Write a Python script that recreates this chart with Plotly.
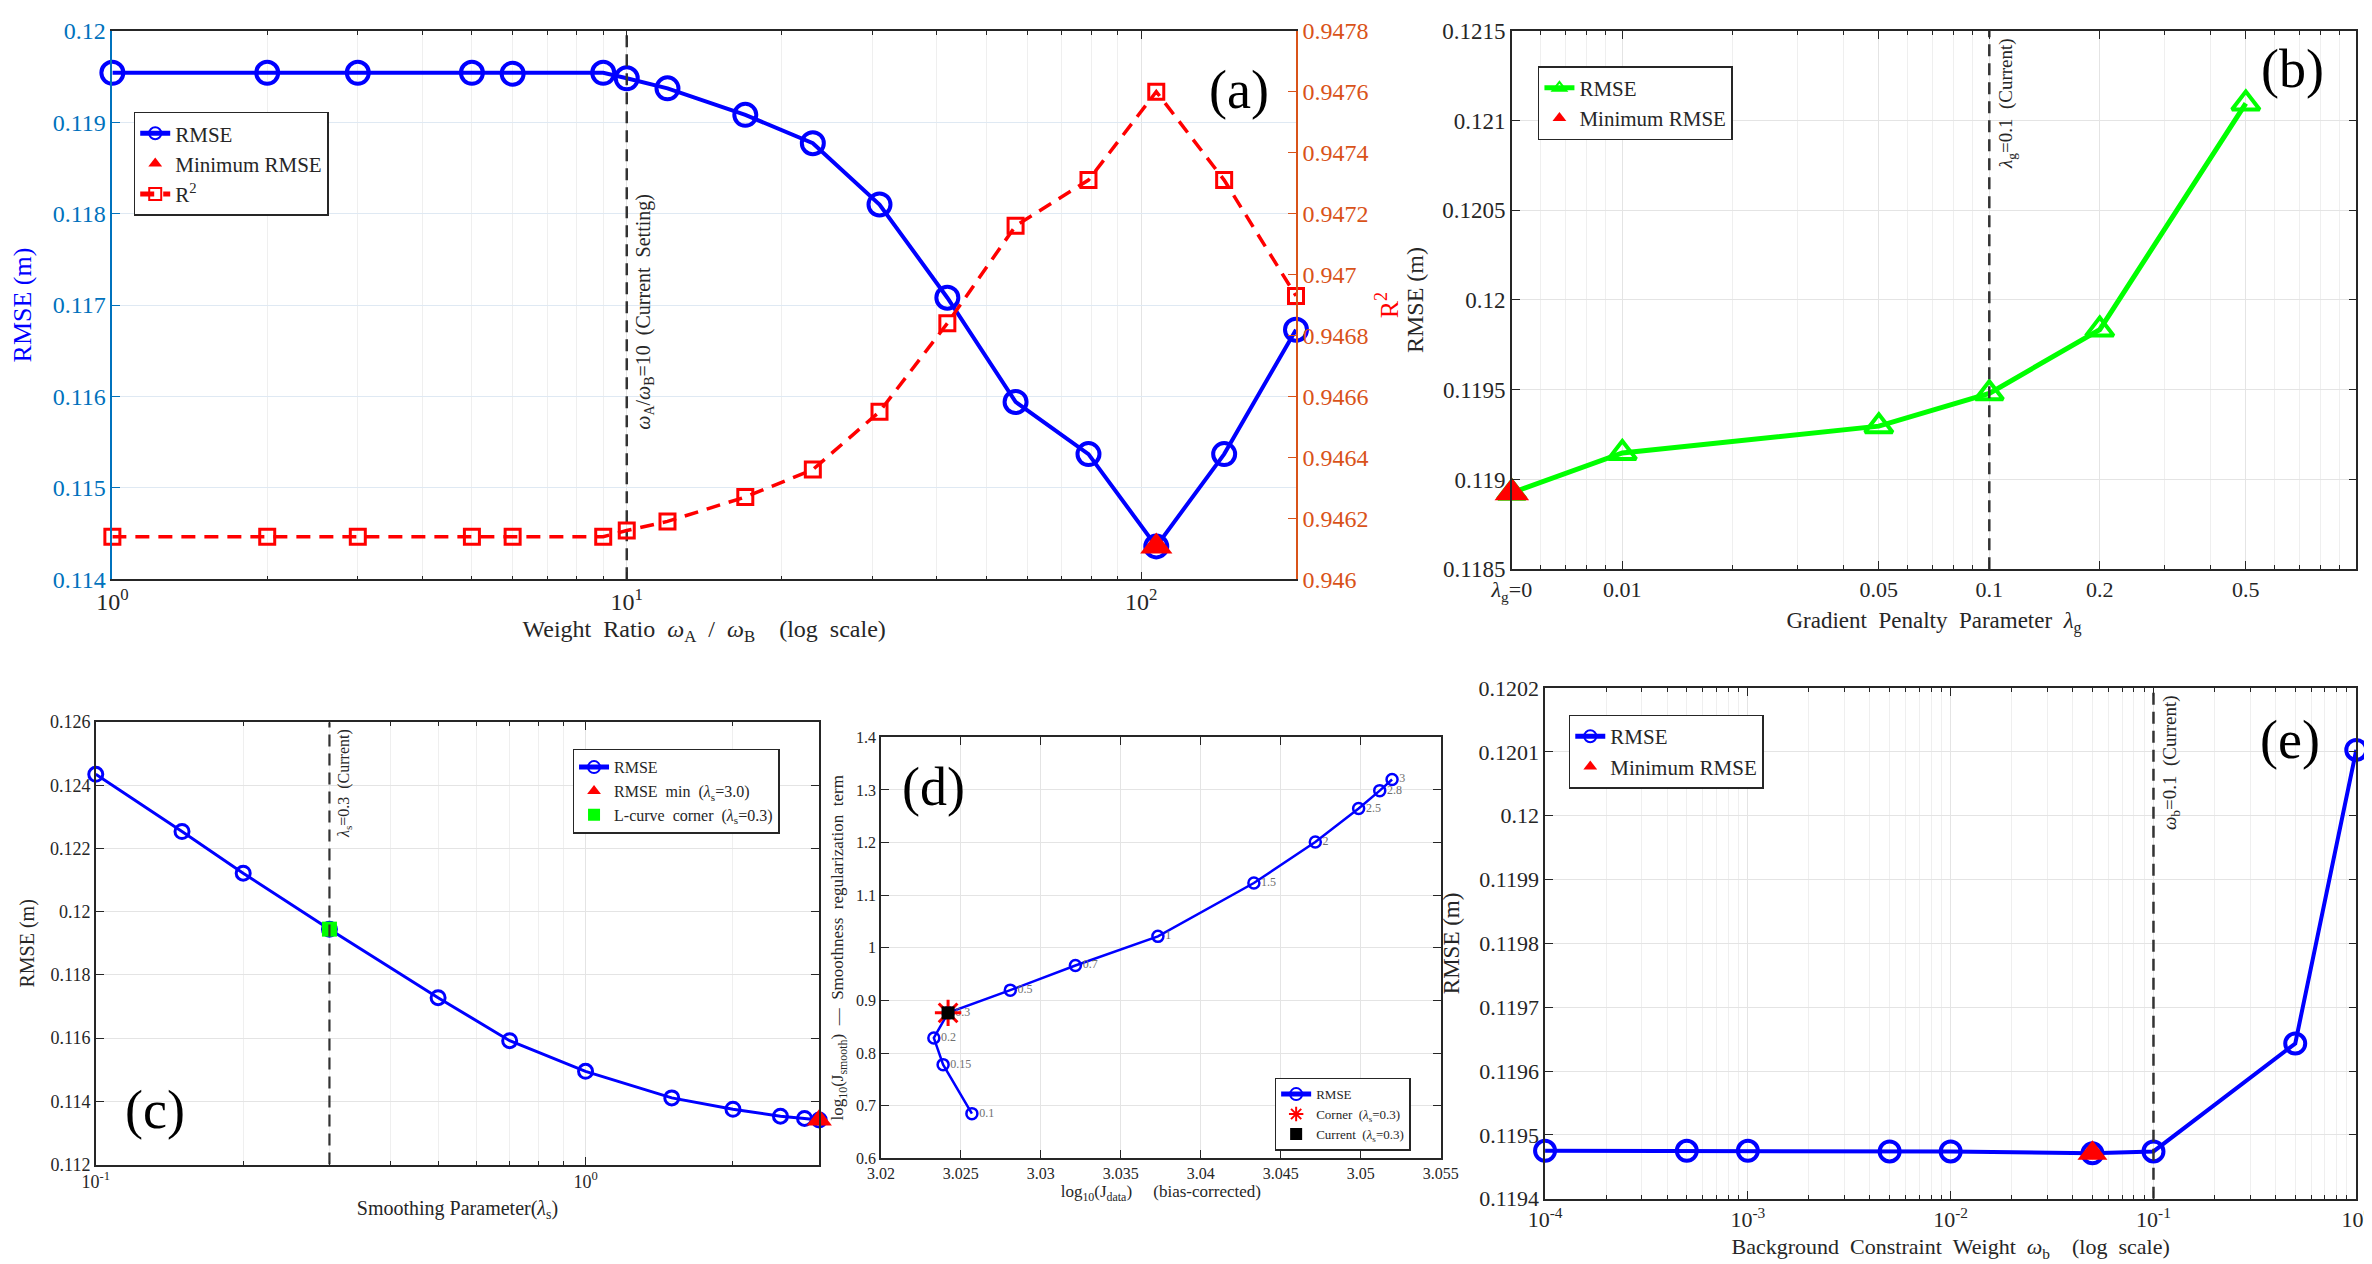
import math
import plotly.graph_objects as go

FONT = "Liberation Serif, Times New Roman, serif"
AXC = "#262626"

# ---------------- data ----------------
# (a) weight ratio sweep
ratio_a = [1, 2, 3, 5, 6, 9, 10, 12, 17, 23, 31, 42, 57, 79, 107, 145, 200]
rmse_a = [0.11954, 0.11954, 0.11954, 0.11954, 0.11953, 0.11954, 0.11948, 0.11937, 0.11908,
          0.11877, 0.11810, 0.11708, 0.11594, 0.11537, 0.11436, 0.11537, 0.11673]
r2_a = [0.94614, 0.94614, 0.94614, 0.94614, 0.94614, 0.94614, 0.94616, 0.94619, 0.94627,
        0.94636, 0.94655, 0.94684, 0.94716, 0.94731, 0.94760, 0.94731, 0.94693]
min_ratio_a = 107
min_rmse_a = 0.11436
current_ratio_a = 10
yticks_a = [0.114, 0.115, 0.116, 0.117, 0.118, 0.119, 0.12]
y2ticks_a = [0.946, 0.9462, 0.9464, 0.9466, 0.9468, 0.947, 0.9472, 0.9474, 0.9476, 0.9478]

# (b) gradient penalty sweep (first point is lambda_g = 0, drawn at 0.005)
lam_g = [0.005, 0.01, 0.05, 0.1, 0.2, 0.5]
lam_g_labels = ["<i>λ</i><sub>g</sub>=0", "0.01", "0.05", "0.1", "0.2", "0.5"]
rmse_b = [0.118926, 0.119148, 0.119297, 0.11948, 0.119835, 0.121095]
current_lam_g = 0.1
yticks_b = [0.1185, 0.119, 0.1195, 0.12, 0.1205, 0.121, 0.1215]

# (c) smoothing parameter sweep
lam_s = [0.1, 0.15, 0.2, 0.3, 0.5, 0.7, 1, 1.5, 2, 2.5, 2.8, 3]
rmse_c = [0.12435, 0.12254, 0.12122, 0.11945, 0.11728, 0.11592, 0.11495, 0.11411,
          0.11375, 0.11353, 0.11346, 0.11341]
min_lam_s = 3.0
min_rmse_c = 0.11341
corner_lam_s = 0.3
corner_rmse_c = 0.11945
yticks_c = [0.112, 0.114, 0.116, 0.118, 0.12, 0.122, 0.124, 0.126]

# (d) L-curve
jdata = [3.02569, 3.02389, 3.02331, 3.02420, 3.02809, 3.03216, 3.03732, 3.04332,
         3.04716, 3.04987, 3.05119, 3.05196]
jsmooth = [0.6848, 0.7779, 0.8286, 0.8763, 0.9195, 0.9664, 1.0217, 1.1231,
           1.2011, 1.2647, 1.2987, 1.3199]
corner_jdata = 3.02420
corner_jsmooth = 0.8763
xticks_d = [3.02, 3.025, 3.03, 3.035, 3.04, 3.045, 3.05, 3.055]
yticks_d = [0.6, 0.7, 0.8, 0.9, 1.0, 1.1, 1.2, 1.3, 1.4]

# (e) background constraint weight sweep
omega_b = [1e-4, 5e-4, 1e-3, 5e-3, 1e-2, 5e-2, 0.1, 0.5, 1]
rmse_e = [0.119475, 0.119475, 0.119475, 0.119474, 0.119474, 0.119471, 0.119474,
          0.119643, 0.120103]
min_omega_b = 0.05
min_rmse_e = 0.119471
current_omega_b = 0.1
yticks_e = [0.1194, 0.1195, 0.1196, 0.1197, 0.1198, 0.1199, 0.12, 0.1201, 0.1202]


def fmt(v):
    return f"{v:g}"


def log_minor(lo_exp, hi_exp, lo=None, hi=None):
    vals = []
    for e in range(lo_exp, hi_exp + 1):
        for m in range(2, 10):
            v = m * 10 ** e
            if (lo is None or v > lo) and (hi is None or v < hi):
                vals.append(v)
    return vals


def axis(size=22, **kw):
    d = dict(showline=True, linecolor=AXC, linewidth=1.5, mirror="ticks", ticks="inside",
             ticklen=8, tickwidth=1.2, tickcolor=AXC, showgrid=True, gridcolor="#E4E4E4",
             gridwidth=1, zeroline=False, automargin=False,
             tickfont=dict(family=FONT, size=size, color=AXC))
    d.update(kw)
    return d


def minor(vals):
    return dict(tickvals=vals, ticks="inside", ticklen=4, tickcolor=AXC,
                showgrid=True, gridcolor="#EFEFEF", gridwidth=1)


def title(text, size, color=AXC, standoff=None):
    t = dict(text=text, font=dict(family=FONT, size=size, color=color))
    if standoff is not None:
        t["standoff"] = standoff
    return t


fig = go.Figure()
BLUE = "#0000FF"
RED = "#FF0000"
GREEN = "#00FF00"
ORANGE = "#D95319"
TICKBLUE = "#0072BD"
DASH = "12px,7px"

# ---------- (a) ----------
fig.add_trace(go.Scatter(x=ratio_a, y=rmse_a, mode="lines+markers", name="RMSE",
                         line=dict(color=BLUE, width=4),
                         marker=dict(symbol="circle-open", size=22, line=dict(width=4, color=BLUE)),
                         xaxis="x", yaxis="y", legend="legend", cliponaxis=False))
fig.add_trace(go.Scatter(x=[min_ratio_a], y=[min_rmse_a], mode="markers", name="Minimum RMSE",
                         marker=dict(symbol="triangle-up", size=28, color=RED),
                         xaxis="x", yaxis="y", legend="legend", cliponaxis=False))
fig.add_trace(go.Scatter(x=ratio_a, y=r2_a, mode="lines+markers", name="R<sup>2</sup>",
                         line=dict(color=RED, width=3.5, dash="14px,9px"),
                         marker=dict(symbol="square-open", size=15, line=dict(width=3, color=RED)),
                         xaxis="x", yaxis="y2", legend="legend", cliponaxis=False))
fig.add_trace(go.Scatter(x=[current_ratio_a, current_ratio_a], y=[yticks_a[0], yticks_a[-1]],
                         mode="lines", line=dict(color="#333333", width=2.5, dash=DASH),
                         showlegend=False, xaxis="x", yaxis="y", hoverinfo="skip"))

# ---------- (b) ----------
fig.add_trace(go.Scatter(x=lam_g, y=rmse_b, mode="lines+markers", name="RMSE",
                         line=dict(color=GREEN, width=5),
                         marker=dict(symbol="triangle-up-open", size=24, line=dict(width=4, color=GREEN)),
                         xaxis="x2", yaxis="y3", legend="legend2", cliponaxis=False))
fig.add_trace(go.Scatter(x=[lam_g[0]], y=[rmse_b[0]], mode="markers", name="Minimum RMSE",
                         marker=dict(symbol="triangle-up", size=30, color=RED),
                         xaxis="x2", yaxis="y3", legend="legend2", cliponaxis=False))
fig.add_trace(go.Scatter(x=[current_lam_g, current_lam_g], y=[yticks_b[0], yticks_b[-1]],
                         mode="lines", line=dict(color="#333333", width=2.5, dash=DASH),
                         showlegend=False, xaxis="x2", yaxis="y3", hoverinfo="skip"))

# ---------- (c) ----------
fig.add_trace(go.Scatter(x=lam_s, y=rmse_c, mode="lines+markers", name="RMSE",
                         line=dict(color=BLUE, width=3),
                         marker=dict(symbol="circle-open", size=14, line=dict(width=3, color=BLUE)),
                         xaxis="x3", yaxis="y4", legend="legend3", cliponaxis=False))
fig.add_trace(go.Scatter(x=[min_lam_s], y=[min_rmse_c], mode="markers",
                         name="RMSE\u00a0\u00a0min\u00a0\u00a0(<i>λ</i><sub>s</sub>=3.0)",
                         marker=dict(symbol="triangle-up", size=22, color=RED),
                         xaxis="x3", yaxis="y4", legend="legend3", cliponaxis=False))
fig.add_trace(go.Scatter(x=[corner_lam_s], y=[corner_rmse_c], mode="markers",
                         name="L-curve\u00a0\u00a0corner\u00a0\u00a0(<i>λ</i><sub>s</sub>=0.3)",
                         marker=dict(symbol="square", size=15, color=GREEN),
                         xaxis="x3", yaxis="y4", legend="legend3", cliponaxis=False))
fig.add_trace(go.Scatter(x=[corner_lam_s, corner_lam_s], y=[yticks_c[0], yticks_c[-1]],
                         mode="lines", line=dict(color="#333333", width=2.2, dash=DASH),
                         showlegend=False, xaxis="x3", yaxis="y4", hoverinfo="skip"))

# ---------- (d) ----------
fig.add_trace(go.Scatter(x=jdata, y=jsmooth, mode="lines+markers", name="RMSE",
                         line=dict(color=BLUE, width=2.5),
                         marker=dict(symbol="circle-open", size=11, line=dict(width=2.5, color=BLUE)),
                         xaxis="x4", yaxis="y5", legend="legend4", cliponaxis=False))
fig.add_trace(go.Scatter(x=jdata, y=jsmooth, mode="markers+text", text=[fmt(v) for v in lam_s],
                         textposition="middle right",
                         marker=dict(size=10, color="rgba(0,0,0,0)"),
                         textfont=dict(family=FONT, size=12, color="#707070"),
                         showlegend=False, xaxis="x4", yaxis="y5", hoverinfo="skip", cliponaxis=False))
fig.add_trace(go.Scatter(x=[corner_jdata], y=[corner_jsmooth], mode="markers",
                         name="Corner\u00a0\u00a0(<i>λ</i><sub>s</sub>=0.3)",
                         marker=dict(symbol="asterisk-open", size=22, color=RED,
                                     line=dict(width=3, color=RED)),
                         xaxis="x4", yaxis="y5", legend="legend4", cliponaxis=False))
fig.add_trace(go.Scatter(x=[corner_jdata], y=[corner_jsmooth], mode="markers",
                         name="Current\u00a0\u00a0(<i>λ</i><sub>s</sub>=0.3)",
                         marker=dict(symbol="square", size=13, color="#000000"),
                         xaxis="x4", yaxis="y5", legend="legend4", cliponaxis=False))

# ---------- (e) ----------
fig.add_trace(go.Scatter(x=omega_b, y=rmse_e, mode="lines+markers", name="RMSE",
                         line=dict(color=BLUE, width=4),
                         marker=dict(symbol="circle-open", size=20, line=dict(width=4, color=BLUE)),
                         xaxis="x5", yaxis="y6", legend="legend5", cliponaxis=False))
fig.add_trace(go.Scatter(x=[min_omega_b], y=[min_rmse_e], mode="markers", name="Minimum RMSE",
                         marker=dict(symbol="triangle-up", size=26, color=RED),
                         xaxis="x5", yaxis="y6", legend="legend5", cliponaxis=False))
fig.add_trace(go.Scatter(x=[current_omega_b, current_omega_b], y=[yticks_e[0], yticks_e[-1]],
                         mode="lines", line=dict(color="#333333", width=2.5, dash=DASH),
                         showlegend=False, xaxis="x5", yaxis="y6", hoverinfo="skip"))

# ---------------- layout ----------------
NB = "\u00a0"
layout = dict(
    width=2372, height=1264, margin=dict(l=0, r=0, t=0, b=0, autoexpand=False),
    paper_bgcolor="white", plot_bgcolor="white",
    font=dict(family=FONT, color=AXC),
    # (a)
    xaxis=axis(24, type="log", domain=[0.044, 0.543], anchor="y",
               range=[0, math.log10(200)],
               tickvals=[1, 10, 100], ticktext=["10<sup>0</sup>", "10<sup>1</sup>", "10<sup>2</sup>"],
               minor=minor(log_minor(0, 2, hi=200)),
               title=title(f"Weight{NB}{NB}Ratio{NB}{NB}<i>ω</i><sub>A</sub>{NB}{NB}/{NB}{NB}<i>ω</i><sub>B</sub>{NB}{NB}{NB}{NB}(log{NB}{NB}scale)", 24, standoff=6)),
    yaxis=axis(24, domain=[0.548, 0.982], anchor="x", range=[0.114, 0.12],
               tickvals=yticks_a, ticktext=[fmt(v) for v in yticks_a],
               tickfont=dict(family=FONT, size=24, color=TICKBLUE),
               linecolor=TICKBLUE, tickcolor=TICKBLUE, mirror=False, gridcolor="#DFE9F3",
               title=title("RMSE (m)", 26, BLUE, standoff=14)),
    yaxis2=dict(overlaying="y", anchor="x", side="right", range=[0.946, 0.9478],
                tickvals=y2ticks_a, ticktext=[fmt(v) for v in y2ticks_a],
                showline=True, linecolor=ORANGE, linewidth=1.5, ticks="inside", ticklen=8,
                tickcolor=ORANGE, showgrid=False, zeroline=False, automargin=False,
                tickfont=dict(family=FONT, size=24, color=ORANGE),
                title=title("R<sup>2</sup>", 26, RED, standoff=12)),
    # (b)
    xaxis2=axis(22, type="log", domain=[0.634, 0.990], anchor="y3",
                range=[math.log10(0.005), 0],
                tickvals=lam_g, ticktext=lam_g_labels,
                minor=minor(log_minor(-3, -1, lo=0.005)),
                title=title(f"Gradient{NB}{NB}Penalty{NB}{NB}Parameter{NB}{NB}<i>λ</i><sub>g</sub>", 23, standoff=8)),
    yaxis3=axis(23, domain=[0.556, 0.982], anchor="x2", range=[0.1185, 0.1215],
                tickvals=yticks_b, ticktext=[fmt(v) for v in yticks_b],
                title=title("RMSE (m)", 24, standoff=12)),
    # (c)
    xaxis3=axis(18, type="log", domain=[0.037, 0.342], anchor="y4",
                range=[-1, math.log10(3)],
                tickvals=[0.1, 1], ticktext=["10<sup>-1</sup>", "10<sup>0</sup>"],
                minor=minor(log_minor(-1, 0, hi=3.5)),
                title=title(f"Smoothing Parameter(<i>λ</i><sub>s</sub>)", 20, standoff=10)),
    yaxis4=axis(18, domain=[0.085, 0.435], anchor="x3", range=[0.112, 0.126],
                tickvals=yticks_c, ticktext=[fmt(v) for v in yticks_c],
                title=title("RMSE (m)", 20, standoff=10)),
    # (d)
    xaxis4=axis(16, domain=[0.368, 0.604], anchor="y5", range=[3.02, 3.055],
                tickvals=xticks_d, ticktext=[fmt(v) for v in xticks_d],
                title=title(f"log<sub>10</sub>(J<sub>data</sub>){NB}{NB}{NB}{NB}{NB}(bias-corrected)", 17, standoff=4)),
    yaxis5=axis(16, domain=[0.090, 0.423], anchor="x4", range=[0.6, 1.4],
                tickvals=yticks_d, ticktext=[fmt(v) for v in yticks_d],
                title=title(f"log<sub>10</sub>(J<sub>smooth</sub>){NB}{NB}—{NB}{NB}Smoothness{NB}{NB}regularization{NB}{NB}term", 17, standoff=8)),
    # (e)
    xaxis5=axis(22, type="log", domain=[0.648, 0.990], anchor="y6", range=[-4, 0],
                tickvals=[1e-4, 1e-3, 1e-2, 1e-1, 1],
                ticktext=["10<sup>-4</sup>", "10<sup>-3</sup>", "10<sup>-2</sup>", "10<sup>-1</sup>", "10<sup>0</sup>"],
                minor=minor(log_minor(-4, -1)),
                title=title(f"Background{NB}{NB}Constraint{NB}{NB}Weight{NB}{NB}<i>ω</i><sub>b</sub>{NB}{NB}{NB}{NB}(log{NB}{NB}scale)", 22, standoff=8)),
    yaxis6=axis(22, domain=[0.058, 0.462], anchor="x5", range=[0.1194, 0.1202],
                tickvals=yticks_e, ticktext=[fmt(v) for v in yticks_e],
                title=title("RMSE (m)", 23, standoff=12)),
)


def leg(x, y, size, xanchor="left", yanchor="top"):
    return dict(x=x, y=y, xanchor=xanchor, yanchor=yanchor, xref="paper", yref="paper",
                bgcolor="white", bordercolor=AXC, borderwidth=1.5,
                font=dict(family=FONT, size=size, color=AXC), tracegroupgap=0,
                itemsizing="constant")


layout["legend"] = leg(0.053, 0.918, 21)
layout["legend2"] = leg(0.645, 0.954, 21)
layout["legend3"] = leg(0.238, 0.414, 16)
layout["legend4"] = leg(0.534, 0.096, 13, yanchor="bottom")
layout["legend5"] = leg(0.658, 0.441, 21)

annotations = []
# panel letters
for txt, x, y in [("(a)", 0.519, 0.935), ("(b)", 0.963, 0.952), ("(c)", 0.062, 0.1285),
                  ("(d)", 0.390, 0.384), ("(e)", 0.962, 0.421)]:
    annotations.append(dict(text=txt, x=x, y=y, xref="paper", yref="paper", showarrow=False,
                            xanchor="center", yanchor="middle",
                            font=dict(family=FONT, size=54, color="#000000")))

# vertical "current" labels
annotations.append(dict(text=f"<i>ω</i><sub>A</sub>/<i>ω</i><sub>B</sub>=10{NB}{NB}(Current{NB}{NB}Setting)",
                        x=math.log10(current_ratio_a), y=0.11693, xref="x", yref="y",
                        textangle=-90, showarrow=False, xanchor="left", yanchor="middle", xshift=3,
                        font=dict(family=FONT, size=20, color=AXC)))
annotations.append(dict(text=f"<i>λ</i><sub>g</sub>=0.1{NB}{NB}(Current)",
                        x=math.log10(current_lam_g), y=0.99, xref="x2", yref="y3 domain",
                        textangle=-90, showarrow=False, xanchor="left", yanchor="top", xshift=3,
                        font=dict(family=FONT, size=19, color=AXC)))
annotations.append(dict(text=f"<i>λ</i><sub>s</sub>=0.3{NB}{NB}(Current)",
                        x=math.log10(corner_lam_s), y=0.99, xref="x3", yref="y4 domain",
                        textangle=-90, showarrow=False, xanchor="left", yanchor="top", xshift=3,
                        font=dict(family=FONT, size=16, color=AXC)))
annotations.append(dict(text=f"<i>ω</i><sub>b</sub>=0.1{NB}{NB}(Current)",
                        x=math.log10(current_omega_b), y=0.99, xref="x5", yref="y6 domain",
                        textangle=-90, showarrow=False, xanchor="left", yanchor="top", xshift=3,
                        font=dict(family=FONT, size=19, color=AXC)))
layout["annotations"] = annotations

fig.update_layout(**layout)
fig.write_html("out.html")
